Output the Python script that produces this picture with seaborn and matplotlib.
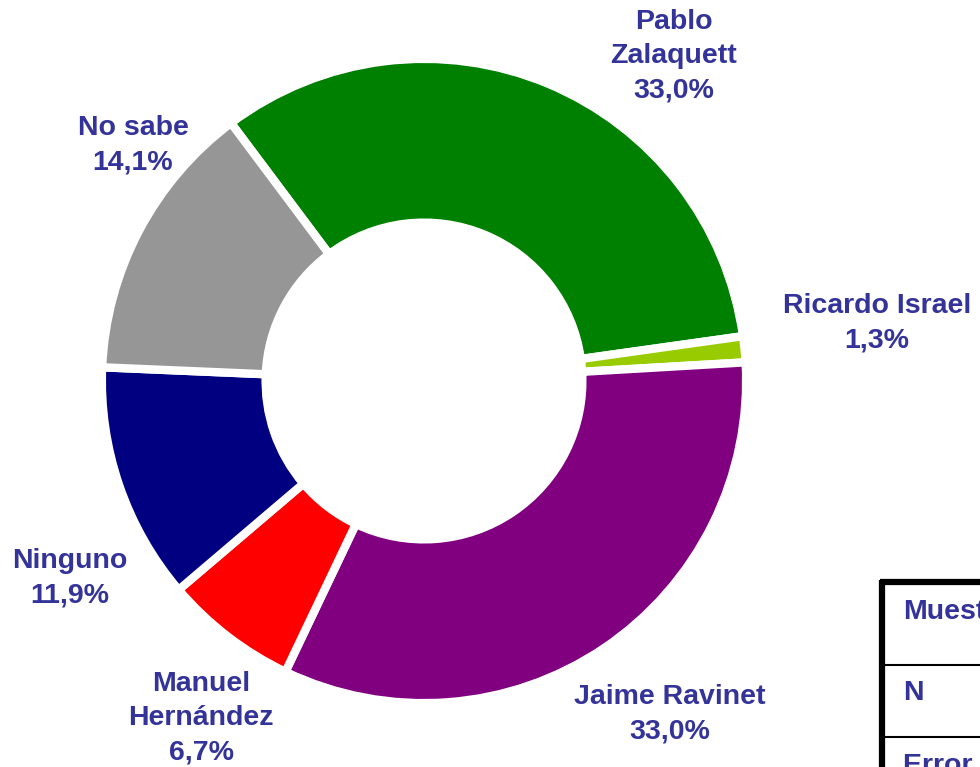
import matplotlib
matplotlib.use("Agg")
import matplotlib.pyplot as plt
import seaborn as sns
from matplotlib.lines import Line2D

sns.set_theme(style="white")
plt.rcParams['font.family'] = ['Liberation Sans', 'DejaVu Sans']

# Data
candidates = ["Pablo\nZalaquett", "Ricardo Israel", "Jaime Ravinet",
              "Manuel\nHernández", "Ninguno", "No sabe"]
values = [33.0, 1.3, 33.0, 6.7, 11.9, 14.1]
colors = ["#008000", "#99CC00", "#800080", "#FF0000", "#000080", "#969696"]
label_pos = [(0.786, 1.022), (1.425, 0.182), (0.774, -1.047),
             (-0.701, -1.060), (-1.113, -0.619), (-0.915, 0.742)]
table_rows = ["Muestra", "N", "Error muestral"]

text_color = "#333399"

fig = plt.figure(figsize=(9.8, 7.67), dpi=100)
ax = fig.add_axes([0, 0, 1, 1])
ax.pie(values, colors=colors, startangle=126.8, counterclock=False,
       radius=1.013,
       wedgeprops=dict(width=0.515, edgecolor="white", linewidth=6))
ax.set_xlim(-424/318, (980-424)/318)
ax.set_ylim(-386/318, (767-386)/318)
ax.set_aspect('auto')
ax.axis('off')

for name, v, (x, y) in zip(candidates, values, label_pos):
    txt = f"{name}\n{v:.1f}%".replace('.', ',')
    ax.text(x, y, txt, ha='center', va='center', color=text_color,
            fontsize=20.5, fontweight='bold', linespacing=1.42)

# Table (partially visible at bottom right)
W, H = 980, 767
def fx(px): return px / W
def fy(py): return 1 - py / H

fig.add_artist(Line2D([fx(882), fx(882)], [fy(580), fy(780)], color='black', lw=4.5,
                     solid_capstyle='butt', transform=fig.transFigure))
fig.add_artist(Line2D([fx(880), fx(990)], [fy(582), fy(582)], color='black', lw=4.5,
                     solid_capstyle='butt', transform=fig.transFigure))
for yy in [665, 737]:
    fig.add_artist(Line2D([fx(882), fx(990)], [fy(yy), fy(yy)], color='black', lw=1.5,
                          transform=fig.transFigure))
for txt, yy in zip(table_rows, [612, 693, 766]):
    fig.text(fx(903), fy(yy), txt, ha='left', va='center', color=text_color,
             fontsize=20.5, fontweight='bold')

fig.savefig("out.png", dpi=100, facecolor="white")
